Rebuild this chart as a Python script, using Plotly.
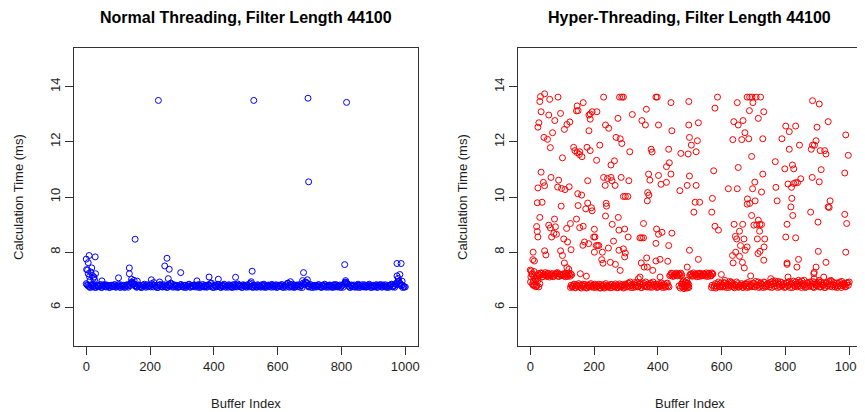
import plotly.graph_objects as go

# ---------------- data ----------------
x_ticks = [0, 200, 400, 600, 800, 1000]
y_ticks = [6, 8, 10, 12, 14]

# Normal threading: baseline band, buffer indices 0,5,10,...
nt_base_idx = list(range(0, 1000, 5))
nt_base_ms = [
    6.86, 6.80, 6.76, 6.82, 6.74, 6.78, 6.72, 6.80, 6.76, 6.83, 6.73, 6.79, 6.75, 6.81, 6.77, 6.73, 6.80, 6.76, 6.82, 6.74,
    6.78, 6.74, 6.81, 6.76, 6.72, 6.80, 6.77, 6.83, 6.88, 6.90, 6.85, 6.79, 6.74, 6.81, 6.76, 6.73, 6.80, 6.77, 6.82, 6.75,
    6.79, 6.86, 6.74, 6.80, 6.76, 6.72, 6.81, 6.78, 6.74, 6.82, 6.77, 6.73, 6.80, 6.88, 6.76, 6.82, 6.74, 6.79, 6.75, 6.81,
    6.77, 6.73, 6.80, 6.76, 6.82, 6.74, 6.79, 6.75, 6.81, 6.77, 6.73, 6.80, 6.76, 6.83, 6.74, 6.79, 6.75, 6.81, 6.86, 6.77,
    6.73, 6.80, 6.76, 6.82, 6.74, 6.79, 6.75, 6.81, 6.77, 6.73, 6.80, 6.76, 6.82, 6.74, 6.79, 6.85, 6.81, 6.77, 6.73, 6.80,
    6.76, 6.82, 6.74, 6.88, 6.75, 6.81, 6.77, 6.73, 6.80, 6.76, 6.82, 6.74, 6.79, 6.75, 6.81, 6.77, 6.73, 6.80, 6.76, 6.82,
    6.74, 6.79, 6.75, 6.81, 6.77, 6.73, 6.86, 6.76, 6.82, 6.74, 6.79, 6.75, 6.81, 6.77, 6.73, 6.80, 6.88, 6.82, 6.90, 6.79,
    6.75, 6.81, 6.77, 6.73, 6.80, 6.76, 6.82, 6.74, 6.79, 6.75, 6.81, 6.77, 6.73, 6.80, 6.76, 6.82, 6.74, 6.79, 6.75, 6.81,
    6.77, 6.73, 6.88, 6.90, 6.85, 6.74, 6.79, 6.75, 6.81, 6.77, 6.73, 6.80, 6.76, 6.82, 6.74, 6.79, 6.75, 6.81, 6.77, 6.73,
    6.80, 6.76, 6.82, 6.74, 6.79, 6.75, 6.81, 6.77, 6.73, 6.80, 6.76, 6.82, 6.74, 6.79, 6.86, 6.90, 6.95, 6.85, 6.80, 6.76,
]
# Normal threading: baseline band, buffer indices 2,7,12,...
nt_base2_idx = list(range(2, 1000, 5))
nt_base2_ms = [
    6.82, 6.76, 6.72, 6.79, 6.84, 6.73, 6.78, 6.75, 6.81, 6.72, 6.77, 6.83, 6.74, 6.79, 6.72, 6.80, 6.75, 6.82, 6.73, 6.78,
    6.83, 6.72, 6.77, 6.80, 6.74, 6.82, 6.73, 6.79, 6.92, 6.86, 6.78, 6.73, 6.81, 6.75, 6.72, 6.79, 6.84, 6.73, 6.77, 6.80,
    6.74, 6.82, 6.90, 6.76, 6.72, 6.79, 6.83, 6.74, 6.80, 6.75, 6.72, 6.81, 6.77, 6.84, 6.73, 6.78, 6.80, 6.72, 6.76, 6.83,
    6.75, 6.80, 6.72, 6.78, 6.84, 6.73, 6.77, 6.81, 6.74, 6.79, 6.83, 6.72, 6.78, 6.75, 6.80, 6.73, 6.82, 6.76, 6.88, 6.72,
    6.80, 6.74, 6.83, 6.77, 6.72, 6.80, 6.84, 6.73, 6.78, 6.82, 6.75, 6.72, 6.79, 6.83, 6.74, 6.80, 6.76, 6.72, 6.82, 6.77,
    6.73, 6.79, 6.84, 6.76, 6.72, 6.80, 6.74, 6.82, 6.77, 6.73, 6.79, 6.84, 6.72, 6.78, 6.75, 6.81, 6.83, 6.74, 6.79, 6.72,
    6.80, 6.76, 6.83, 6.72, 6.79, 6.82, 6.88, 6.73, 6.77, 6.84, 6.72, 6.80, 6.75, 6.82, 6.78, 6.72, 6.84, 6.92, 6.86, 6.74,
    6.83, 6.72, 6.78, 6.80, 6.74, 6.82, 6.76, 6.72, 6.79, 6.84, 6.73, 6.78, 6.81, 6.75, 6.72, 6.80, 6.83, 6.74, 6.78, 6.72,
    6.80, 6.84, 6.92, 6.86, 6.78, 6.72, 6.81, 6.76, 6.73, 6.80, 6.84, 6.72, 6.78, 6.75, 6.82, 6.73, 6.79, 6.84, 6.72, 6.77,
    6.74, 6.81, 6.72, 6.79, 6.83, 6.73, 6.77, 6.82, 6.75, 6.72, 6.80, 6.84, 6.76, 6.73, 6.82, 6.94, 6.88, 6.78, 6.72, 6.74,
]
# Normal threading: points off the band
nt_spike_idx = [226, 525, 695, 816, 697, 153, 0, 9, 28, 6,
                1, 17, 6, 19, 29, 12, 24, 4, 14, 22,
                26, 10, 49, 101, 135, 135, 142, 204, 253, 246,
                260, 296, 257, 347, 385, 414, 468, 520, 681, 810,
                974, 987, 983, 974, 978, 990, 693, 678, 813, 517,
                150, 160, 230, 640, 1000]
nt_spike_ms = [13.50, 13.50, 13.58, 13.43, 10.55, 8.47, 7.75, 7.88, 7.83, 7.62,
               7.37, 7.43, 7.22, 7.16, 7.22, 6.98, 7.10, 7.35, 7.28, 7.05,
               7.00, 7.12, 6.96, 7.07, 7.43, 7.22, 7.02, 7.00, 7.78, 7.50,
               7.38, 7.26, 7.04, 6.96, 7.10, 7.02, 7.09, 7.31, 7.26, 7.55,
               7.59, 7.59, 7.19, 7.14, 7.05, 6.95, 7.00, 6.97, 6.97, 6.93,
               6.98, 6.95, 6.92, 6.93, 6.74]

# Hyper-threading: baseline bands, buffer indices 0,5,10,...
ht_base_idx = list(range(0, 1000, 5))
ht_base_ms = [
    7.35, 7.20, 6.95, 7.05, 6.80, 7.22, 7.18, 7.25, 7.12, 7.20, 7.15, 7.24, 7.10, 7.18, 7.22, 7.14, 7.20, 7.26, 7.12, 7.19,
    7.15, 7.22, 7.11, 7.18, 7.24, 7.13, 7.18, 6.78, 6.72, 6.82, 6.75, 6.80, 6.70, 6.84, 6.76, 6.72, 6.81, 6.74, 6.86, 6.77,
    6.72, 6.80, 6.75, 6.84, 6.70, 6.78, 6.82, 6.73, 6.79, 6.76, 6.71, 6.83, 6.77, 6.74, 6.80, 6.72, 6.85, 6.76, 6.79, 6.73,
    6.81, 6.75, 6.86, 6.72, 6.78, 6.83, 6.74, 6.90, 6.77, 6.84, 6.72, 6.88, 6.79, 6.75, 6.85, 6.73, 6.80, 6.92, 6.76, 6.84,
    6.74, 6.86, 6.78, 6.72, 6.83, 6.76, 6.88, 6.74, 7.18, 7.22, 7.14, 7.20, 7.16, 7.22, 7.15, 7.18, 6.80, 6.72, 6.86, 6.75,
    7.16, 7.22, 7.14, 7.20, 7.17, 7.23, 7.12, 7.19, 7.15, 7.21, 7.13, 7.18, 7.24, 7.15, 6.80, 6.72, 6.86, 6.76, 6.92, 6.74,
    6.82, 6.75, 6.88, 6.72, 6.80, 6.94, 6.76, 6.84, 6.71, 6.78, 6.86, 6.74, 6.81, 6.73, 6.79, 6.85, 6.72, 6.77, 6.83, 6.75,
    6.88, 6.74, 6.80, 6.92, 6.76, 6.84, 6.72, 6.90, 6.78, 6.86, 6.74, 6.82, 6.95, 6.76, 6.88, 6.72, 6.84, 6.92, 6.78, 6.86,
    6.74, 6.90, 6.80, 6.72, 6.88, 6.95, 6.76, 6.84, 6.78, 6.92, 6.72, 6.86, 6.80, 6.74, 6.90, 6.82, 6.76, 6.94, 6.72, 6.85,
    6.78, 6.92, 6.74, 6.86, 6.80, 6.72, 6.90, 6.84, 6.76, 6.94, 6.82, 6.74, 6.88, 6.78, 6.92, 6.72, 6.86, 6.80, 6.76, 6.90,
]
# Hyper-threading: baseline bands, buffer indices 2,7,12,...
ht_base2_idx = list(range(2, 1000, 5))
ht_base2_ms = [
    7.10, 6.85, 7.30, 6.75, 7.05, 7.15, 7.24, 7.10, 7.18, 7.26, 7.12, 7.20, 7.15, 7.22, 7.11, 7.19, 7.24, 7.13, 7.21, 7.16,
    7.20, 7.14, 7.24, 7.12, 7.19, 7.22, 6.76, 6.84, 6.71, 6.79, 6.86, 6.73, 6.80, 6.75, 6.83, 6.70, 6.78, 6.82, 6.74, 6.80,
    6.84, 6.73, 6.78, 6.71, 6.82, 6.75, 6.70, 6.86, 6.74, 6.80, 6.83, 6.72, 6.78, 6.85, 6.71, 6.79, 6.74, 6.82, 6.70, 6.84,
    6.74, 6.88, 6.78, 6.82, 6.72, 6.90, 6.80, 6.75, 6.86, 6.72, 6.83, 6.77, 6.92, 6.74, 6.80, 6.88, 6.73, 6.84, 6.79, 6.72,
    6.82, 6.76, 6.88, 6.80, 6.73, 6.86, 6.78, 7.15, 7.24, 7.12, 7.19, 7.24, 7.14, 7.20, 7.24, 6.84, 6.76, 6.92, 6.80, 6.72,
    7.20, 7.13, 7.25, 7.16, 7.11, 7.20, 7.24, 7.14, 7.22, 7.17, 7.25, 7.12, 7.20, 7.14, 7.22, 6.78, 6.70, 6.84, 6.76, 6.88,
    6.74, 6.90, 6.78, 6.84, 6.72, 6.80, 6.88, 6.75, 6.82, 6.92, 6.73, 6.79, 6.86, 6.72, 6.84, 6.77, 6.90, 6.74, 6.80, 6.86,
    6.76, 6.94, 6.82, 6.72, 6.88, 6.78, 6.92, 6.74, 6.84, 6.80, 6.90, 6.72, 6.86, 6.96, 6.78, 6.84, 6.74, 6.90, 6.82, 6.72,
    6.88, 6.78, 6.94, 6.84, 6.72, 6.80, 6.92, 6.74, 6.86, 6.78, 6.96, 6.82, 6.72, 6.88, 6.76, 6.92, 6.84, 6.74, 6.90, 6.80,
    6.86, 6.74, 6.92, 6.80, 6.72, 6.88, 6.78, 6.94, 6.84, 6.74, 6.90, 6.80, 6.72, 6.86, 6.78, 6.94, 6.82, 6.74, 6.88, 6.80,
]
# Hyper-threading: scattered points, first half
ht_idx_a = [32, 45, 30, 61, 87, 230, 280, 287, 292, 394,
            398, 441, 497, 34, 58, 77, 95, 147, 150, 145,
            166, 27, 24, 115, 124, 107, 70, 188, 194, 209,
            184, 188, 236, 246, 275, 320, 350, 364, 361, 402,
            444, 497, 184, 43, 54, 63, 101, 136, 140, 147,
            155, 162, 154, 178, 188, 218, 208, 269, 282, 287,
            312, 379, 382, 434, 472, 495, 499, 505, 264, 253,
            427, 436, 34, 65, 89, 24, 41, 45, 86, 98,
            109, 122, 180, 230, 235, 242, 253, 256, 266, 285,
            309, 371, 375, 402, 410, 427, 441, 469, 492, 499,
            22, 37, 97, 149, 161, 150, 174, 180, 192, 194,
            238, 239, 292, 298, 306, 368, 372, 367, 30, 76,
            58, 20, 63, 79, 114, 126, 145, 155, 166, 201,
            236, 257, 276, 296, 278, 307, 355, 396, 402, 413,
            444, 22, 24, 67, 74, 82, 105, 117, 128, 170,
            165, 183, 199, 203, 207, 211, 215, 201, 226, 261,
            245, 278, 292, 296, 344, 349, 355, 394, 434, 499,
            9, 8, 13, 45, 49, 95, 101, 107, 115, 121,
            157, 176, 224, 228, 251, 267, 282, 298, 348, 357,
            367, 384, 365, 394, 407, 431, 492]
ht_ms_a = [13.64, 13.74, 13.46, 13.54, 13.62, 13.62, 13.62, 13.62, 13.62, 13.62,
           13.62, 13.42, 13.46, 13.09, 12.97, 12.77, 13.03, 13.30, 13.13, 13.12,
           13.42, 12.69, 12.53, 12.63, 12.72, 12.45, 12.33, 13.01, 13.09, 13.09,
           12.97, 12.82, 12.61, 12.49, 12.85, 12.99, 12.77, 13.18, 12.61, 12.61,
           12.40, 12.61, 12.40, 12.16, 12.09, 11.79, 11.42, 11.80, 11.68, 11.61,
           11.64, 11.46, 11.54, 11.80, 11.68, 11.88, 11.33, 12.16, 12.11, 11.94,
           11.64, 11.73, 11.63, 11.73, 11.58, 11.56, 12.16, 11.88, 11.31, 11.16,
           11.10, 11.24, 10.90, 10.71, 10.61, 10.33, 10.53, 10.41, 10.36, 10.31,
           10.27, 10.37, 10.59, 10.71, 10.42, 10.67, 10.71, 10.59, 10.42, 10.71,
           10.59, 10.83, 10.61, 10.78, 10.46, 10.53, 10.83, 10.23, 10.42, 10.76,
           9.79, 9.81, 9.67, 10.12, 10.07, 9.69, 9.57, 9.78, 9.61, 9.50,
           9.77, 9.67, 10.02, 10.02, 10.02, 10.16, 10.07, 9.86, 9.26, 9.20,
           8.98, 8.93, 8.88, 8.92, 8.86, 9.04, 9.20, 8.89, 8.94, 8.83,
           9.31, 9.01, 9.26, 8.84, 8.80, 8.55, 9.04, 8.84, 8.65, 8.72,
           8.69, 8.75, 8.55, 8.55, 8.68, 8.65, 8.48, 8.37, 8.09, 8.37,
           8.25, 8.31, 8.55, 8.55, 8.24, 8.24, 8.24, 8.00, 8.00, 8.40,
           8.15, 8.07, 8.12, 7.83, 8.52, 8.52, 8.52, 8.32, 8.24, 8.07,
           8.00, 7.73, 7.68, 8.05, 7.90, 8.05, 7.88, 7.61, 7.44, 7.38,
           7.22, 7.13, 7.73, 7.60, 7.63, 7.56, 7.34, 7.97, 7.61, 7.46,
           7.46, 7.34, 7.79, 7.68, 7.74, 7.67, 7.46]
# Hyper-threading: scattered points, second half
ht_idx_b = [587, 579, 649, 680, 688, 695, 708, 722, 698, 687,
            732, 715, 885, 906, 527, 524, 520, 638, 652, 667,
            673, 635, 663, 685, 729, 694, 652, 575, 520, 801,
            812, 832, 789, 812, 844, 768, 798, 822, 826, 899,
            934, 989, 997, 896, 891, 885, 881, 909, 923, 927,
            912, 986, 621, 649, 697, 704, 729, 725, 770, 774,
            808, 819, 826, 832, 838, 848, 884, 906, 940, 934,
            937, 820, 817, 823, 879, 902, 986, 992, 571, 517,
            531, 513, 569, 579, 590, 681, 688, 680, 705, 694,
            715, 720, 710, 701, 725, 719, 735, 733, 712, 639,
            666, 656, 643, 647, 670, 659, 680, 674, 644, 656,
            665, 671, 634, 636, 720, 732, 714, 691, 805, 801,
            832, 805, 805, 841, 836, 808, 903, 927, 896, 890,
            889, 920, 989, 527, 599, 569]
ht_ms_b = [13.62, 13.22, 13.42, 13.62, 13.62, 13.62, 13.62, 13.62, 13.42, 13.13,
           13.09, 12.85, 13.49, 13.37, 12.69, 12.04, 11.64, 12.73, 12.61, 12.77,
           12.33, 12.08, 12.08, 12.11, 12.11, 11.47, 11.07, 10.95, 10.42, 12.57,
           12.37, 12.57, 12.11, 11.73, 11.88, 11.28, 11.02, 11.16, 11.02, 12.53,
           12.73, 12.25, 11.51, 12.04, 11.88, 11.88, 11.73, 11.68, 11.68, 11.56,
           10.99, 10.87, 10.30, 10.30, 10.30, 10.54, 10.83, 10.18, 10.35, 9.86,
           10.47, 10.35, 10.49, 10.52, 10.52, 10.66, 10.71, 10.55, 9.86, 9.64,
           9.62, 9.95, 9.64, 9.33, 9.45, 9.09, 9.37, 9.04, 9.95, 9.81,
           9.81, 9.45, 9.45, 8.94, 8.80, 9.93, 9.77, 9.74, 9.86, 9.33,
           9.16, 9.01, 8.99, 8.98, 9.00, 8.76, 8.48, 8.19, 8.48, 9.01,
           9.01, 8.76, 8.57, 8.48, 8.48, 8.24, 8.19, 8.07, 8.00, 7.85,
           7.63, 7.43, 7.88, 7.61, 8.03, 7.71, 7.95, 7.14, 9.01, 8.55,
           8.52, 7.61, 7.56, 7.74, 7.46, 7.10, 8.03, 7.63, 7.46, 7.27,
           7.22, 7.10, 8.00, 7.74, 7.19, 7.25]
# Hyper-threading: extra points near the bands
ht_idx_c = [11, 13, 27, 17, 22, 3, 6, 24, 9, 20,
            30, 1, 313, 339, 344, 407, 490, 128, 132, 126,
            466, 470, 474, 478, 482, 488, 492, 497, 476, 486,
            480, 494, 572, 568, 610, 630, 677, 754, 776, 841,
            859, 890, 906, 942, 984, 1000]
ht_ms_c = [7.10, 6.80, 6.74, 6.98, 7.13, 7.32, 7.22, 6.98, 6.80, 6.76,
           6.86, 6.92, 6.92, 7.04, 7.10, 7.10, 6.98, 6.80, 6.74, 6.72,
           6.78, 6.70, 6.85, 6.92, 6.68, 6.76, 6.70, 6.82, 6.74, 6.90,
           6.96, 6.88, 7.20, 6.72, 6.98, 6.92, 6.86, 7.04, 6.94, 6.98,
           6.98, 7.04, 6.98, 6.98, 6.86, 6.92]

# ---------------- figure ----------------
nt_x = nt_base_idx + nt_base2_idx + nt_spike_idx
nt_y = nt_base_ms + nt_base2_ms + nt_spike_ms
ht_x = ht_base_idx + ht_base2_idx + ht_idx_a + ht_idx_b + ht_idx_c
ht_y = ht_base_ms + ht_base2_ms + ht_ms_a + ht_ms_b + ht_ms_c

fig = go.Figure()
fig.add_trace(go.Scatter(x=nt_x, y=nt_y, mode="markers", xaxis="x", yaxis="y",
                         marker=dict(symbol="circle-open", size=6, color="#0000FF",
                                     line=dict(width=1, color="#0000FF")),
                         showlegend=False, hoverinfo="x+y"))
fig.add_trace(go.Scatter(x=ht_x, y=ht_y, mode="markers", xaxis="x2", yaxis="y2",
                         marker=dict(symbol="circle-open", size=6, color="#FF0000",
                                     line=dict(width=1, color="#FF0000")),
                         showlegend=False, hoverinfo="x+y"))

# The page body has an 8px margin, so screen positions are shifted by OFF.
OFF = 8
W, H = 865 - OFF, 412 - OFF
txt = "#1e1e1e"
font_family = "Liberation Sans, Arial, sans-serif"

def px_x(x):
    return (x - OFF) / W

def px_y(y):
    return 1 - (y - OFF) / H

def xax(domain, anchor):
    return dict(domain=domain, anchor=anchor, range=[-39, 1040], tickvals=x_ticks,
                ticks="outside", ticklen=8, tickcolor="#333", tickwidth=1,
                showline=True, mirror=True, linecolor="#333", linewidth=1,
                showgrid=False, zeroline=False,
                tickfont=dict(size=13, color=txt, family=font_family))

def yax(domain, anchor):
    return dict(domain=domain, anchor=anchor, range=[4.6, 15.4], tickvals=y_ticks,
                tickangle=-90, ticks="outside", ticklen=8, tickcolor="#333", tickwidth=1,
                showline=True, mirror=True, linecolor="#333", linewidth=1,
                showgrid=False, zeroline=False,
                tickfont=dict(size=13, color=txt, family=font_family))

ydom = [px_y(346), px_y(48)]
fig.update_layout(
    width=W, height=H, margin=dict(l=0, r=0, t=0, b=0),
    paper_bgcolor="white", plot_bgcolor="white",
    font=dict(family=font_family, color=txt),
    xaxis=xax([px_x(74), px_x(419)], "y"),
    yaxis=yax(ydom, "x"),
    xaxis2=xax([px_x(519), px_x(864)], "y2"),
    yaxis2=yax(ydom, "x2"),
    annotations=[
        dict(text="<b>Normal Threading, Filter Length 44100</b>", x=px_x(246.5), y=px_y(17),
             xref="paper", yref="paper", showarrow=False, xanchor="center", yanchor="middle",
             font=dict(size=16, color="#000")),
        dict(text="<b>Hyper-Threading, Filter Length 44100</b>", x=px_x(691.5), y=px_y(17),
             xref="paper", yref="paper", showarrow=False, xanchor="center", yanchor="middle",
             font=dict(size=16, color="#000")),
        dict(text="Buffer Index", x=px_x(246.5), y=px_y(403), xref="paper", yref="paper",
             showarrow=False, xanchor="center", yanchor="middle", font=dict(size=13, color=txt)),
        dict(text="Buffer Index", x=px_x(691.5), y=px_y(403), xref="paper", yref="paper",
             showarrow=False, xanchor="center", yanchor="middle", font=dict(size=13, color=txt)),
        dict(text="Calculation Time (ms)", x=px_x(18), y=px_y(197), xref="paper", yref="paper",
             showarrow=False, xanchor="center", yanchor="middle", textangle=-90,
             font=dict(size=13, color=txt)),
        dict(text="Calculation Time (ms)", x=px_x(463), y=px_y(197), xref="paper", yref="paper",
             showarrow=False, xanchor="center", yanchor="middle", textangle=-90,
             font=dict(size=13, color=txt)),
    ],
)

fig.write_html("out.html")
